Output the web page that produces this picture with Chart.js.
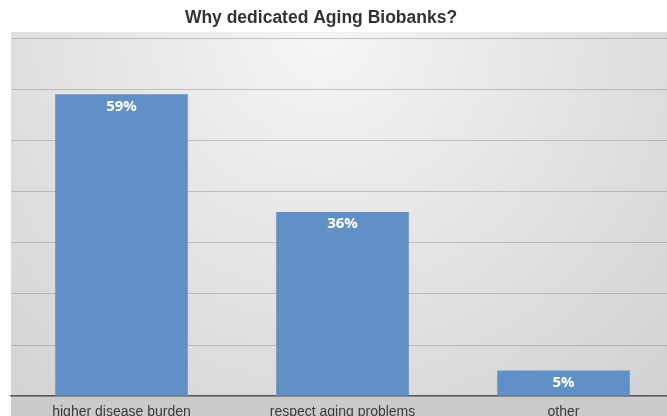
<!DOCTYPE html>
<html>
<head>
<meta charset="utf-8">
<script src="https://cdn.jsdelivr.net/npm/chart.js@4.4.0/dist/chart.umd.min.js"></script>
<style>
html,body{margin:0;padding:0;background:#fff;overflow:hidden;width:667px;height:416px;}
#wrap{position:absolute;left:0;top:0;width:674px;height:429px;}
</style>
</head>
<body>
<div id="wrap"><canvas id="c" width="674" height="429"></canvas></div>
<script>
const categories = ["higher disease burden", "respect aging problems", "other"];
const values = [59, 36, 5];
const valueLabels = ["59%", "36%", "5%"];
const yTicks = [0, 10, 20, 30, 40, 50, 60, 70];
const titleText = "Why dedicated Aging Biobanks?";

const bgPlugin = {
  id: 'bg',
  beforeDraw(chart) {
    const ctx = chart.ctx, a = chart.chartArea;
    ctx.save();
    const top = 32;
    const cx = a.left + (a.right - a.left) * 0.47;
    const g = ctx.createRadialGradient(cx, top, 20, cx, top, 520);
    g.addColorStop(0, '#f4f4f4');
    g.addColorStop(0.5, '#e2e2e2');
    g.addColorStop(1, '#d0d0d0');
    ctx.fillStyle = g;
    ctx.fillRect(a.left, top, chart.width - a.left, a.bottom - top);
    ctx.fillStyle = '#cbcbcb';
    ctx.fillRect(a.left, a.bottom, chart.width - a.left, chart.height - a.bottom);
    ctx.restore();
  }
};

const titlePlugin = {
  id: 'offsetTitle',
  afterDraw(chart, args, opts) {
    const ctx = chart.ctx;
    ctx.save();
    ctx.fillStyle = opts.color;
    ctx.font = opts.font;
    ctx.textAlign = 'center';
    ctx.textBaseline = 'middle';
    ctx.fillText(opts.text, opts.x, opts.y);
    ctx.restore();
  }
};

const labelPlugin = {
  id: 'vlabels',
  afterDatasetsDraw(chart) {
    const ctx = chart.ctx;
    const meta = chart.getDatasetMeta(0);
    ctx.save();
    ctx.fillStyle = '#ffffff';
    ctx.font = 'bold 15px "Open Sans", sans-serif';
    ctx.textAlign = 'center';
    ctx.textBaseline = 'middle';
    meta.data.forEach((bar, i) => {
      ctx.fillText(valueLabels[i], bar.x, bar.y + 12);
    });
    ctx.restore();
  }
};

new Chart(document.getElementById('c'), {
  type: 'bar',
  data: {
    labels: categories,
    datasets: [{
      data: values,
      backgroundColor: '#6090c5',
      borderWidth: 0,
      categoryPercentage: 1.0,
      barPercentage: 0.6
    }]
  },
  options: {
    responsive: false,
    animation: false,
    layout: { padding: { left: 11, right: 0, top: 38, bottom: 0 } },
    plugins: {
      legend: { display: false },
      tooltip: { enabled: false },
      title: { display: false },
      offsetTitle: {
        text: titleText,
        color: '#333333',
        font: 'bold 17.5px "Liberation Sans", Arial, sans-serif',
        x: 321,
        y: 18
      }
    },
    scales: {
      x: {
        grid: { display: false, drawTicks: false },
        border: { display: true, color: '#5a5a5a', width: 1.5 },
        ticks: {
          color: '#3a3a3a',
          padding: 8,
          font: { family: '"Liberation Sans", Arial, sans-serif', size: 14 },
          maxRotation: 0
        }
      },
      y: {
        min: 0,
        max: 70,
        afterBuildTicks(axis) { axis.ticks = yTicks.map(v => ({ value: v })); },
        grid: { color: 'rgba(140,140,140,0.45)', lineWidth: 1, drawTicks: false },
        border: { display: false },
        ticks: { display: false }
      }
    }
  },
  plugins: [bgPlugin, labelPlugin, titlePlugin]
});
</script>
</body>
</html>
